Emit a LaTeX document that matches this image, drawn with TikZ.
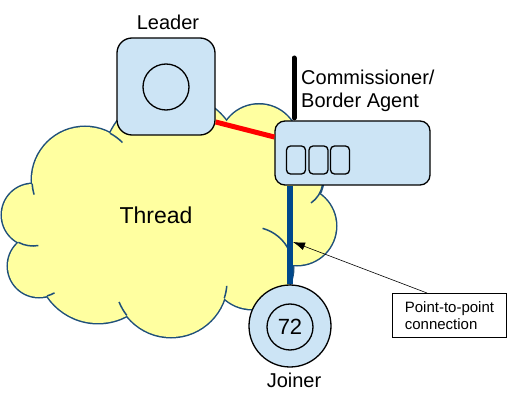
\documentclass[tikz,border=0pt]{standalone}
\usepackage{fontspec}
\setmainfont{Liberation Sans}
\usetikzlibrary{arrows.meta}
\definecolor{cloudfill}{RGB}{255,255,160}
\definecolor{cloudline}{RGB}{31,80,122}
\definecolor{boxblue}{RGB}{204,228,245}
\definecolor{linkblue}{RGB}{0,72,140}
\tikzset{
  devbox/.style={draw, line width=1.3pt, fill=boxblue, rounded corners=#1, inner sep=0pt},
  devbox/.default=10pt,
  ring/.style={draw, circle, line width=1.3pt, inner sep=0pt},
  lbl/.style={font=\fontsize{20}{23}\selectfont, inner sep=0pt},
  redlink/.style={red, line width=5pt},
  bluelink/.style={linkblue, line width=6pt},
  antenna/.style={black, line width=5pt, line cap=round},
  callbox/.style={draw, line width=0.9pt, align=left, font=\fontsize{15}{16.5}\selectfont,
    minimum width=114pt, minimum height=44pt, inner sep=0pt},
}
\begin{document}
\begin{tikzpicture}[x=1pt, y=1pt, >={Latex[length=12pt,width=8pt]}]
  \useasboundingbox (0,0) rectangle (507,405);
  % cloud: thick rims first, fills over them leave the outer rim only
  \foreach \cx/\cy/\r in {33/190/31, 39/139/31, 98/143/61, 171/124/56, 252/137/41,
      297/179/39, 295/225/28, 259/261/39.5, 172/243/68, 85/225/53}
    \draw[cloudline, line width=3pt] (\cx,\cy) circle[radius=\r pt];
  \foreach \cx/\cy/\r in {33/190/31, 39/139/31, 98/143/61, 171/124/56, 252/137/41,
      297/179/39, 295/225/28, 259/261/39.5, 172/243/68, 85/225/53}
    \fill[cloudfill] (\cx,\cy) circle[radius=\r pt];
  \fill[cloudfill] (33,190) -- (85,225) -- (172,243) -- (259,261) -- (295,225) -- (297,179)
    -- (252,137) -- (171,124) -- (98,143) -- (39,139) -- cycle;
  % inner ends of the puffs
  \foreach \cx/\cy/\r/\a/\b in {85/225/53/184/196, 33/190/31/242/280, 39/139/31/285/300,
      171/124/56/218/202, 171/124/56/342/355, 252/137/41/75/25, 295/225/28/350/305, 85/225/53/62/45}
    \draw[cloudline, line width=1.5pt] (\cx,\cy) ++(\a:\r pt) arc[start angle=\a, end angle=\b, radius=\r pt];
  \node[font=\fontsize{23}{26}\selectfont, anchor=base] (thread) at (156,181) {Thread};

  % devices
  \node[devbox=15pt, minimum width=98pt, minimum height=97pt] (leaderbox) at (166,318.5) {};
  \node[ring, minimum size=46pt] (leaderin) at (166,318) {};
  \node[lbl, anchor=base] (leaderlbl) at (168,375) {Leader};

  \coordinate (anttop) at (294,347);
  \node[devbox, minimum width=155pt, minimum height=64pt] (cbox) at (352.5,252) {};
  \draw[antenna, shorten >=2.5pt] (anttop) -- (anttop |- cbox.north);
  \foreach \i/\px in {1/296,2/318.5,3/340}
    \node[devbox=4pt, minimum width=19pt, minimum height=28pt] (port\i) at (\px,245) {};
  \node[lbl, anchor=base west] (cboxlbl) at (301,320)
    {\begin{tabular}[t]{@{}l@{}}Commissioner/\\Border Agent\end{tabular}};

  \node[ring, fill=boxblue, minimum size=82pt] (joiner) at (290,79) {};
  \node[ring, minimum size=46pt, font=\fontsize{22}{24}\selectfont] (joinerin) at (290,78) {72};
  \node[lbl, anchor=base] (joinerlbl) at (294,17) {Joiner};

  % links
  \draw[redlink] ([yshift=-35.5pt]leaderbox.east) -- ([yshift=16pt]cbox.west);
  \draw[bluelink] (joiner.north |- cbox.south) -- (joiner.north);

  % callout
  \node[callbox, anchor=north west] (callout) at (392,112) {Point-to-point\\connection};
  \coordinate (p2p) at (293,163);
  \draw[->, line width=0.6pt] ([xshift=35pt]callout.north west) -- (p2p);
\end{tikzpicture}
\end{document}
